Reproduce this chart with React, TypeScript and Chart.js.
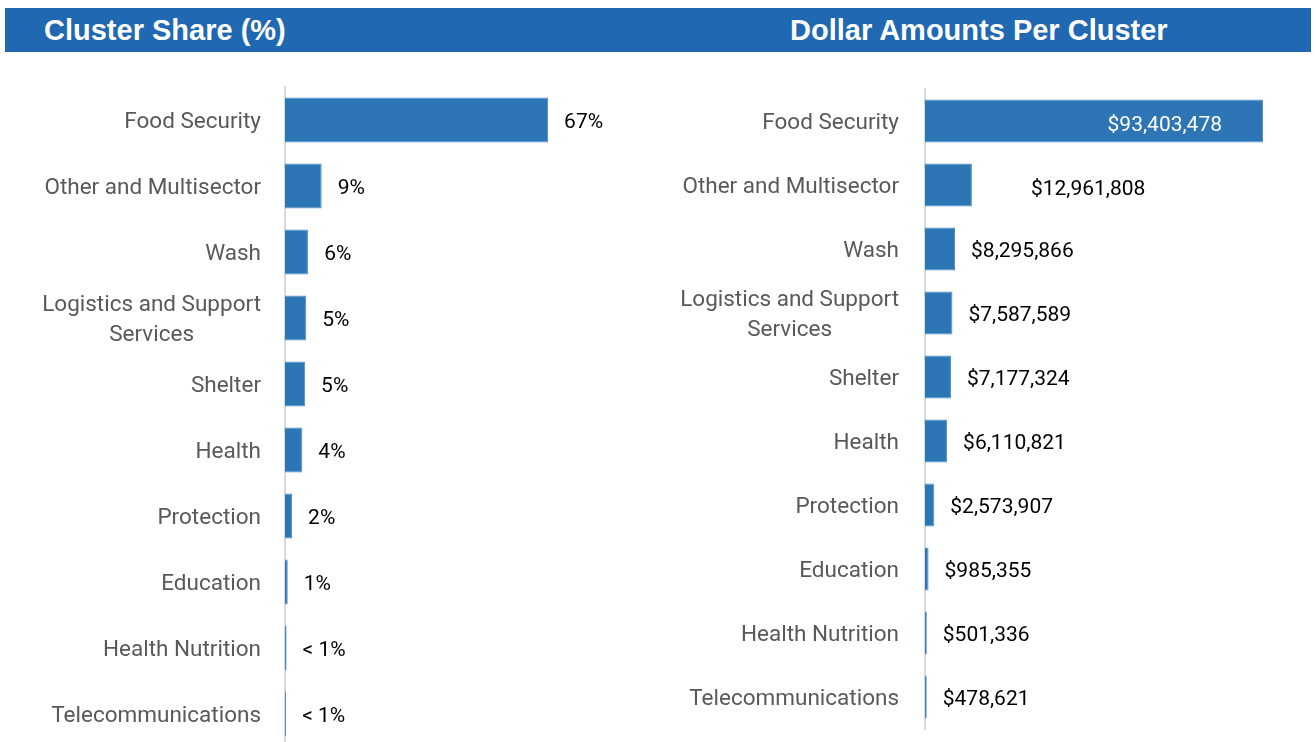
import React, { useEffect, useRef } from "react";
import { Chart, registerables } from "chart.js";

Chart.register(...registerables);

const categories: (string | string[])[] = [
  "Food Security",
  "Other and Multisector",
  "Wash",
  ["Logistics and Support", "Services"],
  "Shelter",
  "Health",
  "Protection",
  "Education",
  "Health Nutrition",
  "Telecommunications",
];

const sharePct = [66.7, 9.3, 5.9, 5.4, 5.1, 4.4, 1.8, 0.7, 0.4, 0.3];
const shareLabels = ["67%", "9%", "6%", "5%", "5%", "4%", "2%", "1%", "< 1%", "< 1%"];

const dollarAmounts = [93403478, 12961808, 8295866, 7587589, 7177324, 6110821, 2573907, 985355, 501336, 478621];
const dollarLabels = ["$93,403,478", "$12,961,808", "$8,295,866", "$7,587,589", "$7,177,324", "$6,110,821", "$2,573,907", "$985,355", "$501,336", "$478,621"];

const titles = ["Cluster Share (%)", "Dollar Amounts Per Cluster"];

const BAR = "#2E75B6";
const BAR_EDGE = "#4F8FCB";
const AXIS = "#D9D9D9";
const CAT_COLOR = "#595959";

type LabelOpts = {
  valueLabels: string[];
  insideIdx: number[];
  extraShift: Record<number, number>;
  gap: number;
};

function makeLabelPlugin(opts: LabelOpts) {
  return {
    id: "customLabels",
    afterDatasetsDraw(chart: any) {
      const ctx = chart.ctx;
      const ys = chart.scales.y;
      const xs = chart.scales.x;
      const area = chart.chartArea;
      const data = chart.data.datasets[0].data as number[];
      ctx.save();
      ctx.textBaseline = "middle";
      // category labels
      ctx.font = "22.5px Roboto";
      ctx.fillStyle = CAT_COLOR;
      const right = area.left - opts.gap;
      (chart.data.labels as any[]).forEach((lab, i) => {
        const y = ys.getPixelForValue(i) + 2;
        const lines: string[] = Array.isArray(lab) ? lab : [lab];
        if (lines.length === 1) {
          ctx.textAlign = "right";
          ctx.fillText(lines[0], right, y);
        } else {
          const lh = 30;
          const maxW = Math.max(...lines.map((l) => ctx.measureText(l).width));
          const cx = right - maxW / 2;
          ctx.textAlign = "center";
          lines.forEach((l, k) => {
            ctx.fillText(l, cx, y + (k - (lines.length - 1) / 2) * lh);
          });
        }
      });
      // value labels
      ctx.font = "21px Roboto";
      data.forEach((v, i) => {
        const y = ys.getPixelForValue(i);
        const xEnd = xs.getPixelForValue(v);
        if (opts.insideIdx.includes(i)) {
          ctx.fillStyle = "#FFFFFF";
          ctx.textAlign = "right";
          ctx.fillText(opts.valueLabels[i], xEnd - 41, y + 5);
        } else {
          ctx.fillStyle = "#000000";
          ctx.textAlign = "left";
          const shift = opts.extraShift[i] || 0;
          ctx.fillText(opts.valueLabels[i], xEnd + 16 + shift, y + (shift ? 5 : 3));
        }
      });
      ctx.restore();
    },
  };
}

function BarPanel(props: {
  left: number;
  width: number;
  height: number;
  values: number[];
  max: number;
  axisWidth: number;
  padTop: number;
  padBottom: number;
  padRight: number;
  barPct: number;
  labelOpts: LabelOpts;
}) {
  const ref = useRef<HTMLCanvasElement | null>(null);
  useEffect(() => {
    if (!ref.current) return;
    const chart = new Chart(ref.current, {
      type: "bar",
      data: {
        labels: categories as any,
        datasets: [
          {
            data: props.values,
            backgroundColor: BAR,
            borderColor: BAR_EDGE,
            borderWidth: 1,
            categoryPercentage: 0.8,
            barPercentage: props.barPct,
          },
        ],
      },
      options: {
        indexAxis: "y",
        responsive: false,
        animation: false,
        layout: { padding: { top: props.padTop, bottom: props.padBottom, right: props.padRight, left: 0 } },
        plugins: { legend: { display: false }, tooltip: { enabled: false } },
        scales: {
          x: { display: false, min: 0, max: props.max },
          y: {
            type: "category",
            position: "left",
            grid: { display: false, drawTicks: false },
            border: { display: true, color: AXIS, width: 2 },
            ticks: { display: false },
            afterFit: (scale: any) => {
              scale.width = props.axisWidth;
            },
          },
        },
      },
      plugins: [makeLabelPlugin(props.labelOpts)],
    });
    return () => chart.destroy();
  }, []);
  return (
    <canvas
      ref={ref}
      width={props.width}
      height={props.height}
      style={{ position: "absolute", left: props.left, top: 0, width: props.width, height: props.height }}
    />
  );
}

const titleStyle: React.CSSProperties = {
  position: "absolute",
  top: 8,
  height: 44,
  lineHeight: "44px",
  color: "#FFFFFF",
  fontFamily: "'Liberation Sans', Arial, sans-serif",
  fontWeight: "bold",
  fontSize: 29,
  whiteSpace: "nowrap",
};

export default function App() {
  return (
    <div
      style={{
        position: "fixed",
        left: 0,
        top: 0,
        width: 1316,
        height: 742,
        overflow: "hidden",
        background: "#FFFFFF",
      }}
    >
      <div
        style={{
          position: "absolute",
          left: 5,
          top: 8,
          width: 1306,
          height: 44,
          background: "#2068B2",
        }}
      />
      <div style={{ ...titleStyle, left: 44 }}>{titles[0]}</div>
      <div style={{ ...titleStyle, left: 790 }}>{titles[1]}</div>
      <BarPanel
        left={0}
        width={650}
        height={760}
        values={sharePct}
        max={90}
        axisWidth={285}
        padTop={87}
        padBottom={13}
        padRight={10}
        barPct={0.85}
        labelOpts={{ valueLabels: shareLabels, insideIdx: [], extraShift: {}, gap: 24 }}
      />
      <BarPanel
        left={650}
        width={666}
        height={742}
        values={dollarAmounts}
        max={105000000}
        axisWidth={275}
        padTop={89}
        padBottom={13}
        padRight={11}
        barPct={0.84}
        labelOpts={{ valueLabels: dollarLabels, insideIdx: [0], extraShift: { 1: 43 }, gap: 26 }}
      />
    </div>
  );
}
